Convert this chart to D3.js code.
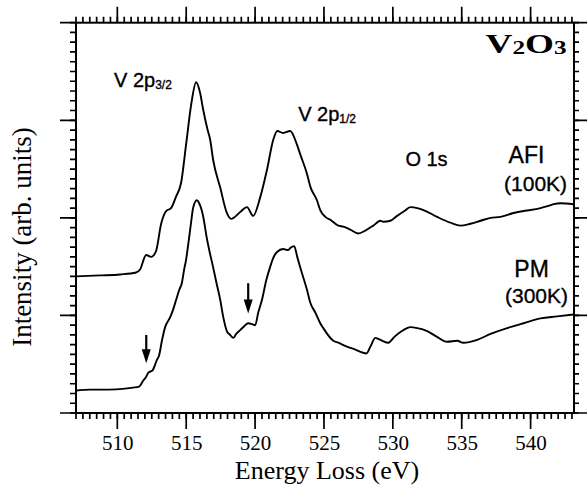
<!DOCTYPE html>
<html lang="en">
<head>
<meta charset="UTF-8">
<title>V2O3 energy loss</title>
<script src="https://cdnjs.cloudflare.com/ajax/libs/d3/7.8.5/d3.min.js"></script>
<style>
    body { margin: 0; background: #fff; }
    svg { display: block; }
    .serif { font-family: "Liberation Serif", "Times New Roman", serif; }
    .sans { font-family: "Liberation Sans", Arial, Helvetica, sans-serif; stroke: #000; stroke-width: 0.35px; }
</style>
</head>
<body>
<svg id="plot-svg"></svg>
<script>
// AFI (100K) spectrum
const afiEnergy = [507.00, 508.74, 510.20, 511.36, 511.65, 512.09, 512.45, 512.81, 513.18, 513.54,
    513.90, 514.27, 514.63, 514.99, 515.36, 515.72, 516.01, 516.23, 516.52, 516.74,
    516.96, 517.47, 517.95, 518.26, 518.92, 519.41, 519.86, 520.37, 520.86, 521.32,
    521.61, 522.04, 522.55, 523.04, 523.28, 523.77, 524.01, 524.49, 524.73, 525.10,
    525.46, 526.04, 526.40, 526.91, 527.49, 528.00, 528.58, 529.09, 529.31, 529.82,
    530.31, 530.84, 531.27, 531.78, 532.22, 533.21, 534.18, 534.91, 535.63, 536.36,
    537.09, 537.81, 538.76, 539.49, 539.99, 540.72, 541.23, 541.67, 542.17, 543.12];
const afiIntensity = [1.40, 1.41, 1.42, 1.44, 1.47, 1.62, 1.60, 1.66, 1.94, 2.07,
    2.10, 2.22, 2.36, 2.75, 3.16, 3.39, 3.28, 3.11, 2.92, 2.80,
    2.59, 2.31, 2.05, 1.99, 2.06, 2.11, 2.02, 2.21, 2.49, 2.80,
    2.89, 2.87, 2.89, 2.75, 2.65, 2.45, 2.32, 2.18, 2.08, 2.01,
    1.98, 1.92, 1.91, 1.88, 1.84, 1.87, 1.92, 1.97, 1.96, 1.97,
    2.02, 2.07, 2.11, 2.10, 2.08, 2.01, 1.95, 1.92, 1.94, 1.97,
    2.00, 2.01, 2.05, 2.07, 2.08, 2.10, 2.12, 2.14, 2.15, 2.14];

// PM (300K) spectrum
const pmEnergy = [507.00, 508.02, 509.40, 510.56, 511.14, 511.58, 511.87, 512.09, 512.23, 512.57,
    512.86, 513.03, 513.25, 513.47, 513.83, 514.05, 514.27, 514.49, 514.68, 514.85,
    514.99, 515.14, 515.36, 515.50, 515.77, 515.94, 516.21, 516.50, 516.67, 516.96,
    517.17, 517.47, 517.68, 517.95, 518.19, 518.41, 518.63, 518.92, 519.21, 519.50,
    519.79, 520.01, 520.23, 520.50, 520.81, 521.10, 521.32, 521.59, 522.04, 522.41,
    522.55, 522.84, 523.06, 523.28, 523.77, 524.01, 524.37, 524.73, 524.95, 525.68,
    526.04, 526.67, 527.28, 527.78, 528.08, 528.37, 528.73, 528.95, 529.24, 529.67,
    530.11, 530.55, 531.03, 531.27, 531.78, 532.49, 533.21, 533.94, 534.67, 535.12,
    536.12, 537.09, 538.30, 539.03, 539.49, 540.72, 541.93, 543.12];
const pmIntensity = [0.23, 0.24, 0.24, 0.25, 0.26, 0.27, 0.33, 0.37, 0.41, 0.44,
    0.54, 0.59, 0.75, 0.88, 0.98, 1.06, 1.16, 1.26, 1.33, 1.47,
    1.57, 1.72, 1.96, 2.10, 2.18, 2.15, 2.03, 1.79, 1.67, 1.49,
    1.35, 1.16, 0.99, 0.84, 0.80, 0.77, 0.81, 0.85, 0.89, 0.92,
    0.91, 0.90, 1.03, 1.16, 1.36, 1.50, 1.59, 1.65, 1.68, 1.67,
    1.69, 1.71, 1.60, 1.49, 1.26, 1.13, 1.03, 0.92, 0.87, 0.74,
    0.72, 0.68, 0.65, 0.62, 0.61, 0.68, 0.77, 0.76, 0.74, 0.72,
    0.78, 0.83, 0.87, 0.88, 0.87, 0.84, 0.78, 0.73, 0.74, 0.72,
    0.75, 0.81, 0.87, 0.90, 0.92, 0.97, 0.99, 1.01];

// arrows on the PM curve
const arrowEnergy = [512.1, 519.5];
const arrowTail = [0.80, 1.33];
const arrowTip = [0.51, 1.02];

const X_DOMAIN = [507, 543.15];
const Y_DOMAIN = [0, 4];
const xMajor = [510, 515, 520, 525, 530, 535, 540];
const xMinor = d3.range(507, 543.2, 0.5);
const yMajor = [0, 1, 2, 3, 4];
const yMinor = d3.range(0, 4.001, 0.1);

const width = 587, height = 486;
const margin = {left: 76, right: 13, top: 22.7, bottom: 73};
const w = width - margin.left - margin.right;
const h = height - margin.top - margin.bottom;

const svg = d3.select("#plot-svg")
    .attr("width", width)
    .attr("height", height);

const g = svg.append("g")
    .attr("transform", `translate(${margin.left},${margin.top})`);

const x = d3.scaleLinear().domain(X_DOMAIN).range([0, w]);
const y = d3.scaleLinear().domain(Y_DOMAIN).range([h, 0]);

// ticks all round, pointing outwards; one path per group
const tickSpecs = [
    {vals: xMinor, len: 6, side: "bottom"},
    {vals: xMajor, len: 16, side: "bottom"},
    {vals: xMinor, len: 6, side: "top"},
    {vals: xMajor, len: 16, side: "top"},
    {vals: yMinor, len: 6, side: "left"},
    {vals: yMajor, len: 16, side: "left"},
    {vals: yMinor, len: 5, side: "right"},
    {vals: yMajor, len: 13, side: "right"}
];

tickSpecs.forEach(spec => {
    let d = "";
    spec.vals.forEach(v => {
        if (spec.side === "bottom") {
            d += `M${x(v)},${h}V${h + spec.len}`;
        } else if (spec.side === "top") {
            d += `M${x(v)},0V${-spec.len}`;
        } else if (spec.side === "left") {
            d += `M0,${y(v)}H${-spec.len}`;
        } else {
            d += `M${w},${y(v)}H${w + spec.len}`;
        }
    });
    g.append("path")
        .attr("class", "ticks-" + spec.side)
        .attr("d", d)
        .attr("fill", "none")
        .attr("stroke", "#000")
        .attr("stroke-width", 1.7);
});

// tick labels
g.append("g")
    .attr("transform", `translate(0,${h})`)
    .call(d3.axisBottom(x).tickValues(xMajor).tickSize(0).tickPadding(22).tickFormat(d3.format("d")))
    .call(s => s.select(".domain").remove())
    .call(s => s.selectAll(".tick line").remove())
    .call(s => s.selectAll(".tick text")
        .attr("class", "serif")
        .style("font-size", "21px")
        .attr("fill", "#000"));

// frame
g.append("rect")
    .attr("width", w)
    .attr("height", h)
    .attr("fill", "none")
    .attr("stroke", "#000")
    .attr("stroke-width", 2);

// spectra
const line = d3.line()
    .curve(d3.curveMonotoneX)
    .x(d => x(d[0]))
    .y(d => y(d[1]));

const series = [
    d3.zip(afiEnergy, afiIntensity),
    d3.zip(pmEnergy, pmIntensity)
];

g.selectAll(".spectrum")
    .data(series)
    .enter()
    .append("path")
    .attr("class", "spectrum")
    .attr("d", line)
    .attr("fill", "none")
    .attr("stroke", "#000")
    .attr("stroke-width", 1.9)
    .attr("stroke-linejoin", "round");

// arrows
const arrows = arrowEnergy.map((e, i) => ({e: e, tail: arrowTail[i], tip: arrowTip[i]}));
const headLen = 14, headHalf = 4.5;
g.selectAll(".arrow-shaft")
    .data(arrows)
    .enter()
    .append("line")
    .attr("x1", d => x(d.e))
    .attr("x2", d => x(d.e))
    .attr("y1", d => y(d.tail))
    .attr("y2", d => y(d.tip) - headLen + 2)
    .attr("stroke", "#000")
    .attr("stroke-width", 2.2);
g.selectAll(".arrow-head")
    .data(arrows)
    .enter()
    .append("path")
    .attr("d", d => {
        const ax = x(d.e), ay = y(d.tip);
        return `M${ax},${ay} L${ax - headHalf},${ay - headLen} L${ax + headHalf},${ay - headLen} Z`;
    })
    .attr("fill", "#000");

// annotations (data coordinates)
function label(text, sub, ex, iy, size, anchor) {
    const t = g.append("text")
        .attr("class", "sans")
        .attr("x", x(ex))
        .attr("y", y(iy))
        .attr("text-anchor", anchor)
        .style("font-size", size + "px")
        .attr("fill", "#000")
        .text(text);
    if (sub) {
        t.append("tspan")
            .attr("dy", 2)
            .style("font-size", "12px")
            .text(sub);
    }
}
label("V 2p", "3/2", 509.76, 3.34, 20, "start");
label("V 2p", "1/2", 523.13, 2.99, 20, "start");
label("O 1s", null, 530.91, 2.53, 20, "start");
label("AFI", null, 539.70, 2.56, 23, "middle");
label("(100K)", null, 540.36, 2.27, 21, "middle");
label("PM", null, 540.07, 1.39, 23, "middle");
label("(300K)", null, 540.43, 1.13, 21, "middle");

// compound name
const comp = g.append("text")
    .attr("class", "serif")
    .attr("x", x(542.61))
    .attr("y", y(3.69))
    .attr("text-anchor", "end")
    .attr("textLength", 81)
    .attr("lengthAdjust", "spacingAndGlyphs")
    .style("font-size", "28px")
    .style("font-weight", "bold")
    .attr("fill", "#000");
comp.append("tspan").text("V");
comp.append("tspan").style("font-size", "19px").attr("dy", 1).text("2");
comp.append("tspan").attr("dy", -1).text("O");
comp.append("tspan").style("font-size", "19px").attr("dy", 1).text("3");

// axis titles
svg.append("text")
    .attr("class", "serif")
    .attr("x", 327)
    .attr("y", 479)
    .attr("text-anchor", "middle")
    .style("font-size", "26px")
    .attr("fill", "#000")
    .text("Energy Loss (eV)");

svg.append("text")
    .attr("class", "serif")
    .attr("transform", "translate(31,237) rotate(-90)")
    .attr("text-anchor", "middle")
    .style("font-size", "27px")
    .attr("fill", "#000")
    .text("Intensity (arb. units)");
</script>
</body>
</html>
